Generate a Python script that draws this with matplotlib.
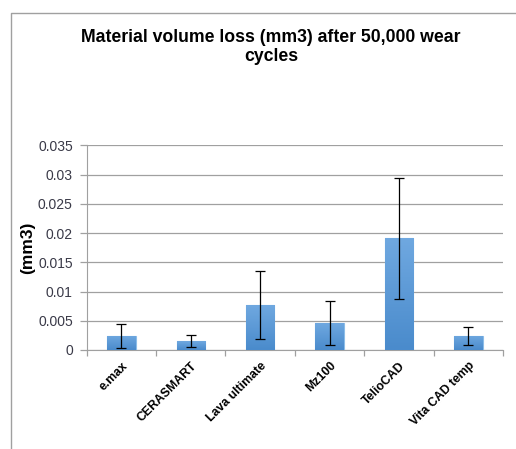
import matplotlib.pyplot as plt
import numpy as np
from matplotlib.lines import Line2D

plt.rcParams['font.family'] = ['Liberation Sans', 'DejaVu Sans']

# data
materials = ['e.max', 'CERASMART', 'Lava ultimate', 'Mz100', 'TelioCAD', 'Vita CAD temp']
volume_loss = [0.0024, 0.0015, 0.0077, 0.0046, 0.0191, 0.0024]
std_dev = [0.0020, 0.0010, 0.0058, 0.0038, 0.0103, 0.0016]
y_ticks = [0, 0.005, 0.01, 0.015, 0.02, 0.025, 0.03, 0.035]
y_tick_labels = ['0', '0.005', '0.01', '0.015', '0.02', '0.025', '0.03', '0.035']

fig = plt.figure(figsize=(5.16, 4.49), dpi=100)
ax = fig.add_axes([0.168, 0.2205, 0.807, 0.4555])

x = np.arange(len(materials))
bars = ax.bar(x, volume_loss, width=0.41, color='#5596d6', edgecolor='#8cbde8',
              linewidth=0.8, zorder=3)

# soft vertical gradient inside each bar, like the spreadsheet fill
grad = np.linspace(0, 1, 100).reshape(-1, 1)
cmap = plt.matplotlib.colors.LinearSegmentedColormap.from_list('bar', ['#4a8bcc', '#6fa8e0'])
for b in bars:
    x0, y0, w, h = b.get_x(), b.get_y(), b.get_width(), b.get_height()
    im = ax.imshow(grad, extent=[x0, x0 + w, y0, y0 + h], origin='lower',
                   cmap=cmap, aspect='auto', zorder=3.1)
    im.set_clip_path(b)

ax.errorbar(x, volume_loss, yerr=std_dev, fmt='none', ecolor='black',
            elinewidth=0.9, capsize=3.5, capthick=0.9, zorder=4)

ax.set_xlim(-0.5, len(materials) - 0.5)
ax.set_ylim(0, 0.035)
ax.set_yticks(y_ticks)
ax.set_yticklabels(y_tick_labels, fontsize=10, color='#3a3a48')
ax.yaxis.grid(True, color='#a0a0a0', linewidth=0.9, zorder=0)
ax.tick_params(axis='y', length=5, color='#a0a0a0', width=0.9, pad=5)

ax.set_xticks(x)
ax.set_xticklabels(materials, rotation=45, ha='right', rotation_mode='anchor',
                   fontsize=8.8, fontweight='bold')
ax.set_xticks(np.arange(len(materials) + 1) - 0.5, minor=True)
ax.tick_params(axis='x', which='major', length=0, pad=7)
ax.tick_params(axis='x', which='minor', length=4, color='#a0a0a0', width=0.9)

for side in ['top', 'right']:
    ax.spines[side].set_visible(False)
ax.spines['left'].set_color('#a0a0a0')
ax.spines['bottom'].set_color('#a0a0a0')

ax.set_ylabel('(mm3)', fontsize=12.5, fontweight='bold', labelpad=2)

fig.text(0.525, 0.935, 'Material volume loss (mm3) after 50,000 wear\ncycles',
         ha='center', va='top', fontsize=12.7, fontweight='bold',
         linespacing=1.15)

# chart border
fig.add_artist(Line2D([10.5 / 516, 10.5 / 516, 1.0], [0.0, 1 - 13 / 449, 1 - 13 / 449],
                      transform=fig.transFigure, color='#a0a0a0', linewidth=1.0))

fig.savefig('out.png', dpi=100)
